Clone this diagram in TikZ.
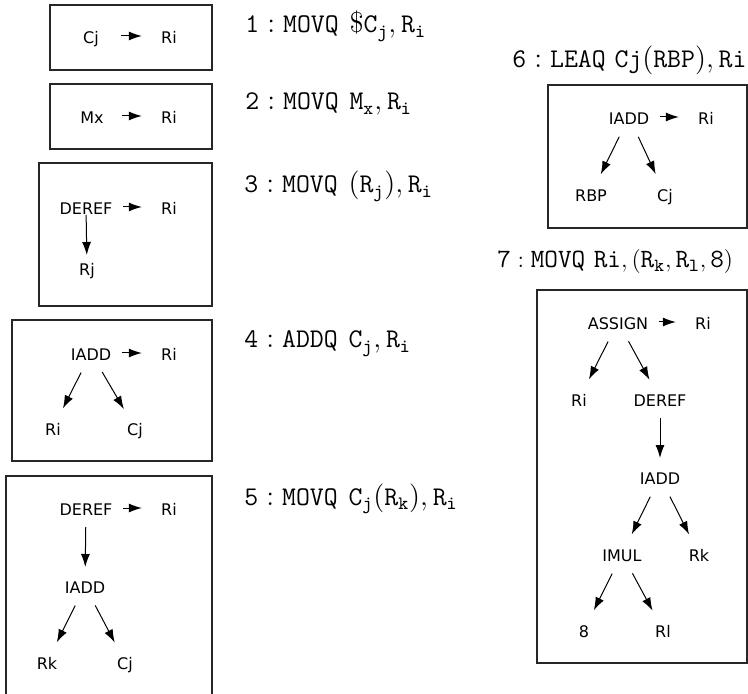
\documentclass[tikz,border=0pt]{standalone}
\usepackage{fontspec}
\newfontfamily\treefont{DejaVu Sans}
\usetikzlibrary{arrows.meta}
\newcommand{\opgap}{\hspace{0.4em}}

\begin{document}
\begin{tikzpicture}[x=0.5pt, y=-0.5pt,
    leaf/.style={inner sep=0pt, text height=0.73em, text depth=0pt, font=\treefont\fontsize{8}{9}\selectfont},
    root/.style={leaf, minimum width=20pt},
    frame/.style={draw=black!85, line width=0.6pt},
    instr/.style={anchor=base west, inner sep=0pt, font=\fontsize{13.5}{16}\selectfont},
    branch/.style={-{Latex[length=6.5pt,width=4.5pt]}, line width=0.5pt, shorten <=11pt, shorten >=11pt},
    drop/.style={branch, shorten <=9.5pt, shorten >=9.5pt},
    result/.style={-{Latex[length=6.5pt,width=4.5pt]}, line width=0.5pt, shorten <=5pt, shorten >=9.5pt},
]
\useasboundingbox (0,0) rectangle (748,694);

% Box 1
\draw[frame] (50,5) rectangle (212,70);
\node[root] (c1) at (91,36) {Cj};
\node[leaf] (r1) at (169,36) {Ri};
\draw[result] (c1.east) -- (r1.west);
\node[instr] (l1) at (245,33) {$\mathtt{1 : MOVQ\opgap\$C_j, R_i}$};

% Box 2
\draw[frame] (50,84) rectangle (212,149);
\node[root] (m2) at (92,116) {Mx};
\node[leaf] (r2) at (169,116) {Ri};
\draw[result] (m2.east) -- (r2.west);
\node[instr] (l2) at (245,110) {$\mathtt{2 : MOVQ\opgap M_x, R_i}$};

% Box 3
\draw[frame] (39,163) rectangle (212,306);
\node[root] (d3) at (86,207) {DEREF};
\node[leaf] (r3) at (169,207) {Ri};
\node[leaf] (j3) at (87,268) {Rj};
\draw[result] (d3.east) -- (r3.west);
\draw[branch, shorten <=4pt, shorten >=6.5pt] (d3.center) -- (j3.center);
\node[instr] (l3) at (244,193) {$\mathtt{3 : MOVQ\opgap(R_j), R_i}$};

% Box 4
\draw[frame] (12,320) rectangle (212,461);
\node[root] (a4) at (91,353) {IADD};
\node[leaf] (r4) at (169,353) {Ri};
\node[leaf] (i4) at (53,428) {Ri};
\node[leaf] (c4) at (135,428) {Cj};
\draw[result] (a4.east) -- (r4.west);
\draw[branch] (a4.center) -- (i4.center);
\draw[branch] (a4.center) -- (c4.center);
\node[instr] (l4) at (244,348) {$\mathtt{4 : ADDQ\opgap C_j, R_i}$};

% Box 5
\draw[frame] (6,694) -- (6,476) -- (212,476) -- (212,694);
\node[root] (d5) at (86,508) {DEREF};
\node[leaf] (r5) at (169,508) {Ri};
\node[leaf] (a5) at (85,586) {IADD};
\node[leaf] (k5) at (47,662) {Rk};
\node[leaf] (c5) at (125,662) {Cj};
\draw[result] (d5.east) -- (r5.west);
\draw[drop] (d5.center) -- (a5.center);
\draw[branch] (a5.center) -- (k5.center);
\draw[branch] (a5.center) -- (c5.center);
\node[instr] (l5) at (244,505) {$\mathtt{5 : MOVQ\opgap C_j(R_k), R_i}$};

% Box 6
\node[instr] (l6) at (512,68) {$\mathtt{6 : LEAQ\ Cj(RBP), Ri}$};
\draw[frame] (548,85) rectangle (747,228);
\node[root] (a6) at (629,117) {IADD};
\node[leaf] (r6) at (706,117) {Ri};
\node[leaf] (b6) at (591,194) {RBP};
\node[leaf] (c6) at (665,194) {Cj};
\draw[result] (a6.east) -- (r6.west);
\draw[branch] (a6.center) -- (b6.center);
\draw[branch] (a6.center) -- (c6.center);

% Box 7
\node[instr, font=\fontsize{13.2}{16}\selectfont] (l7) at (497,268) {$\mathtt{7 : MOVQ\ Ri, (R_k, R_l, 8)}$};
\draw[frame] (537,290) rectangle (747,663);
\node[root] (s7) at (618,322) {ASSIGN};
\node[leaf] (r7) at (703,322) {Ri};
\node[leaf] (i7) at (579,399) {Ri};
\node[leaf] (d7) at (660,399) {DEREF};
\node[leaf] (a7) at (660,477) {IADD};
\node[leaf] (m7) at (622,554) {IMUL};
\node[leaf] (k7) at (699,554) {Rk};
\node[leaf] (e7) at (584,630) {8};
\node[leaf] (l7n) at (663,630) {Rl};
\draw[result] (s7.east) -- (r7.west);
\draw[branch] (s7.center) -- (i7.center);
\draw[branch] (s7.center) -- (d7.center);
\draw[drop] (d7.center) -- (a7.center);
\draw[branch] (a7.center) -- (m7.center);
\draw[branch] (a7.center) -- (k7.center);
\draw[branch] (m7.center) -- (e7.center);
\draw[branch] (m7.center) -- (l7n.center);

\end{tikzpicture}
\end{document}
